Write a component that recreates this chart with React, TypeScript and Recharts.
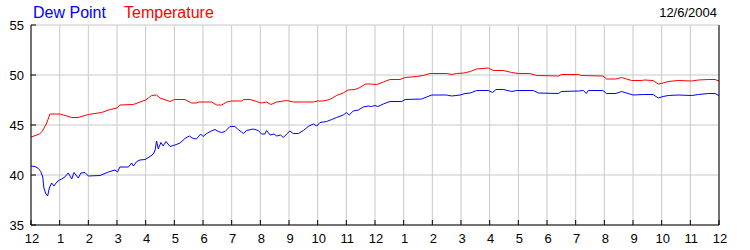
import { LineChart, Line, XAxis, YAxis, CartesianGrid } from 'recharts';

// hour of day (0 = midnight) and reading, per series
const tempHours = [
  0, 0.3, 0.4, 0.55, 0.66, 1.0, 1.13, 1.42, 1.64, 2.0, 2.46, 2.76, 3.0, 3.1, 3.57, 4.0, 4.21, 4.38, 4.5, 4.85,
  5.0, 5.37, 5.6, 5.77, 5.85, 6.3, 6.48, 6.65, 6.83, 7.0, 7.35, 7.42, 7.64, 7.87, 8.03, 8.22, 8.37, 8.57, 8.92, 9.15,
  9.85, 10.0, 10.19, 10.42, 10.66, 10.89, 11.06, 11.3, 11.47, 11.67, 11.83, 12.06, 12.29, 12.52, 12.87, 13.05, 13.45, 13.68, 13.92, 14.5,
  14.68, 14.85, 15.1, 15.32, 15.55, 15.95, 16.13, 16.48, 16.77, 17.0, 17.4, 17.64, 18.4, 18.5, 19.1, 19.2, 19.95, 20.08, 20.4, 20.6,
  20.95, 21.3, 21.4, 21.7, 21.88, 22.05, 22.23, 22.58, 23.05, 23.28, 23.63, 23.86, 24.0,
];
const tempValues = [
  43.8, 44.1, 44.4, 45.2, 46.1, 46.1, 46.0, 45.75, 45.75, 46.05, 46.25, 46.55, 46.7, 47.0, 47.05, 47.5, 47.95, 48.0, 47.7, 47.35,
  47.55, 47.55, 47.2, 47.2, 47.3, 47.3, 47.0, 47.0, 47.3, 47.4, 47.4, 47.55, 47.55, 47.35, 47.2, 47.3, 47.05, 47.3, 47.45, 47.3,
  47.3, 47.4, 47.4, 47.55, 47.95, 48.2, 48.5, 48.55, 48.75, 49.1, 49.1, 49.05, 49.3, 49.55, 49.55, 49.75, 49.85, 49.95, 50.15, 50.15,
  50.05, 50.15, 50.2, 50.35, 50.6, 50.7, 50.45, 50.45, 50.25, 50.15, 50.15, 49.95, 49.9, 50.05, 50.05, 49.95, 49.9, 49.6, 49.6, 49.75,
  49.45, 49.45, 49.5, 49.45, 49.1, 49.2, 49.35, 49.45, 49.4, 49.5, 49.55, 49.55, 49.4,
];

const dewHours = [
  0, 0.14, 0.26, 0.34, 0.41, 0.45, 0.52, 0.58, 0.64, 0.72, 0.8, 0.9, 1.0, 1.07, 1.18, 1.3, 1.42, 1.5, 1.65, 1.74,
  1.88, 2.0, 2.41, 2.7, 2.93, 3.02, 3.1, 3.4, 3.51, 3.57, 3.69, 3.8, 3.98, 4.15, 4.27, 4.33, 4.38, 4.44, 4.53, 4.61,
  4.71, 4.85, 5.02, 5.2, 5.37, 5.52, 5.66, 5.77, 5.92, 6.0, 6.13, 6.25, 6.42, 6.53, 6.65, 6.77, 6.94, 7.11, 7.23, 7.41,
  7.52, 7.75, 7.93, 8.04, 8.16, 8.22, 8.34, 8.48, 8.57, 8.71, 8.8, 8.92, 9.03, 9.15, 9.33, 9.5, 9.67, 9.85, 9.97, 10.08,
  10.31, 10.49, 10.66, 10.89, 11.01, 11.1, 11.24, 11.42, 11.59, 11.76, 11.88, 12.0, 12.1, 12.29, 12.52, 12.93, 13.05, 13.63, 13.8, 13.98,
  14.5, 14.68, 14.97, 15.14, 15.32, 15.55, 15.95, 16.1, 16.22, 16.48, 16.77, 16.94, 17.52, 17.7, 18.4, 18.5, 19.1, 19.27, 19.37, 19.44,
  19.95, 20.08, 20.4, 20.6, 21.0, 21.36, 21.7, 21.88, 22.05, 22.23, 22.58, 23.05, 23.28, 23.63, 23.86, 24.0,
];
const dewValues = [
  40.9, 40.85, 40.65, 40.35, 39.8, 38.7, 38.1, 37.9, 38.7, 39.2, 38.9, 39.3, 39.5, 39.6, 39.8, 40.2, 39.6, 40.25, 39.7, 40.2,
  40.25, 39.9, 39.95, 40.3, 40.5, 40.3, 40.8, 40.8, 41.2, 40.9, 41.35, 41.5, 41.55, 41.85, 42.1, 42.5, 43.4, 42.6, 43.25, 42.9,
  43.35, 42.85, 43.0, 43.2, 43.65, 43.9, 43.65, 43.6, 44.1, 43.85, 44.15, 44.35, 44.55, 44.35, 44.25, 44.35, 44.85, 44.85, 44.55, 44.15,
  44.45, 44.6, 44.45, 44.1, 44.1, 44.45, 44.0, 44.1, 43.9, 44.0, 43.75, 44.1, 44.4, 44.15, 44.15, 44.45, 44.85, 45.1, 44.9, 45.25,
  45.35, 45.55, 45.75, 46.0, 46.25, 46.0, 46.4, 46.5, 46.8, 46.9, 46.85, 46.95, 46.85, 47.1, 47.35, 47.35, 47.55, 47.6, 47.8, 48.0,
  48.0, 47.9, 48.0, 48.15, 48.2, 48.45, 48.45, 48.25, 48.55, 48.55, 48.35, 48.45, 48.45, 48.2, 48.15, 48.35, 48.4, 48.45, 48.15, 48.45,
  48.45, 48.15, 48.15, 48.35, 48.0, 48.05, 48.05, 47.7, 47.85, 47.95, 48.0, 47.95, 48.05, 48.15, 48.15, 47.95,
];

const hourTicks = [0, 1, 2, 3, 4, 5, 6, 7, 8, 9, 10, 11, 12, 13, 14, 15, 16, 17, 18, 19, 20, 21, 22, 23, 24];
const hourLabels = ['12', '1', '2', '3', '4', '5', '6', '7', '8', '9', '10', '11', '12', '1', '2', '3', '4', '5', '6', '7', '8', '9', '10', '11', '12'];
const yTicks = [35, 40, 45, 50, 55];

const tempData = tempHours.map((h, i) => ({ h, v: tempValues[i] }));
const dewData = dewHours.map((h, i) => ({ h, v: dewValues[i] }));

const FONT = '"Liberation Sans", Arial, sans-serif';

function BottomTick({ x, y, payload }: any) {
  return (
    <g>
      <line x1={x} y1={y} x2={x} y2={y - 5} stroke="#000" />
      <text x={x + 1} y={y + 18} textAnchor="middle" fontSize={13} fontFamily={FONT} fill="#000">
        {hourLabels[payload.value]}
      </text>
    </g>
  );
}

function TopTick({ x, y }: any) {
  return <line x1={x} y1={y} x2={x} y2={y + 5} stroke="#000" />;
}

function LeftTick({ x, y, payload }: any) {
  return (
    <g>
      <line x1={x} y1={y} x2={x + 5} y2={y} stroke="#000" />
      <text x={x - 7} y={y + 5} textAnchor="end" fontSize={13} fontFamily={FONT} fill="#000">
        {payload.value}
      </text>
    </g>
  );
}

function RightTick({ x, y, payload }: any) {
  return (
    <g>
      <line x1={x} y1={y} x2={x - 5} y2={y} stroke="#000" />
      <text x={x + 9} y={y + 5} textAnchor="start" fontSize={13} fontFamily={FONT} fill="#000">
        {payload.value}
      </text>
    </g>
  );
}

export default function App() {
  return (
    <div style={{ position: 'absolute', left: 0, top: 0, width: 750, height: 250, background: '#fff', fontFamily: FONT }}>
      <div style={{ position: 'absolute', left: 33, top: 5, fontSize: 16, lineHeight: '16px', color: '#0000ff' }}>Dew Point</div>
      <div style={{ position: 'absolute', left: 124, top: 5, fontSize: 16, lineHeight: '16px', color: '#ff0000' }}>Temperature</div>
      <div style={{ position: 'absolute', right: 33, top: 6, fontSize: 13, lineHeight: '13px', color: '#000' }}>12/6/2004</div>
      <LineChart width={750} height={250} margin={{ top: 25, right: 0, bottom: 0, left: 0 }}>
        <CartesianGrid xAxisId="bottom" yAxisId="left" stroke="#c8c8c8" strokeWidth={1} />
        <XAxis
          xAxisId="bottom"
          type="number"
          dataKey="h"
          domain={[0, 24]}
          ticks={hourTicks}
          interval={0}
          height={25}
          axisLine={{ stroke: '#000' }}
          tickLine={false}
          tickSize={0}
          tickMargin={0}
          tick={<BottomTick />}
        />
        <XAxis
          xAxisId="top"
          orientation="top"
          type="number"
          dataKey="h"
          domain={[0, 24]}
          ticks={hourTicks}
          interval={0}
          height={0}
          axisLine={{ stroke: '#000' }}
          tickLine={false}
          tickSize={0}
          tickMargin={0}
          tick={<TopTick />}
        />
        <YAxis
          yAxisId="left"
          domain={[35, 55]}
          ticks={yTicks}
          interval={0}
          width={31}
          axisLine={{ stroke: '#000' }}
          tickLine={false}
          tickSize={0}
          tickMargin={0}
          tick={<LeftTick />}
        />
        <YAxis
          yAxisId="right"
          orientation="right"
          domain={[35, 55]}
          ticks={yTicks}
          interval={0}
          width={31}
          axisLine={{ stroke: '#000' }}
          tickLine={false}
          tickSize={0}
          tickMargin={0}
          tick={<RightTick />}
        />
        <Line
          xAxisId="bottom"
          yAxisId="left"
          data={tempData}
          dataKey="v"
          type="linear"
          stroke="#ff0000"
          strokeWidth={1}
          dot={false}
          isAnimationActive={false}
        />
        <Line
          xAxisId="bottom"
          yAxisId="left"
          data={dewData}
          dataKey="v"
          type="linear"
          stroke="#0000ff"
          strokeWidth={1}
          dot={false}
          isAnimationActive={false}
        />
      </LineChart>
    </div>
  );
}
